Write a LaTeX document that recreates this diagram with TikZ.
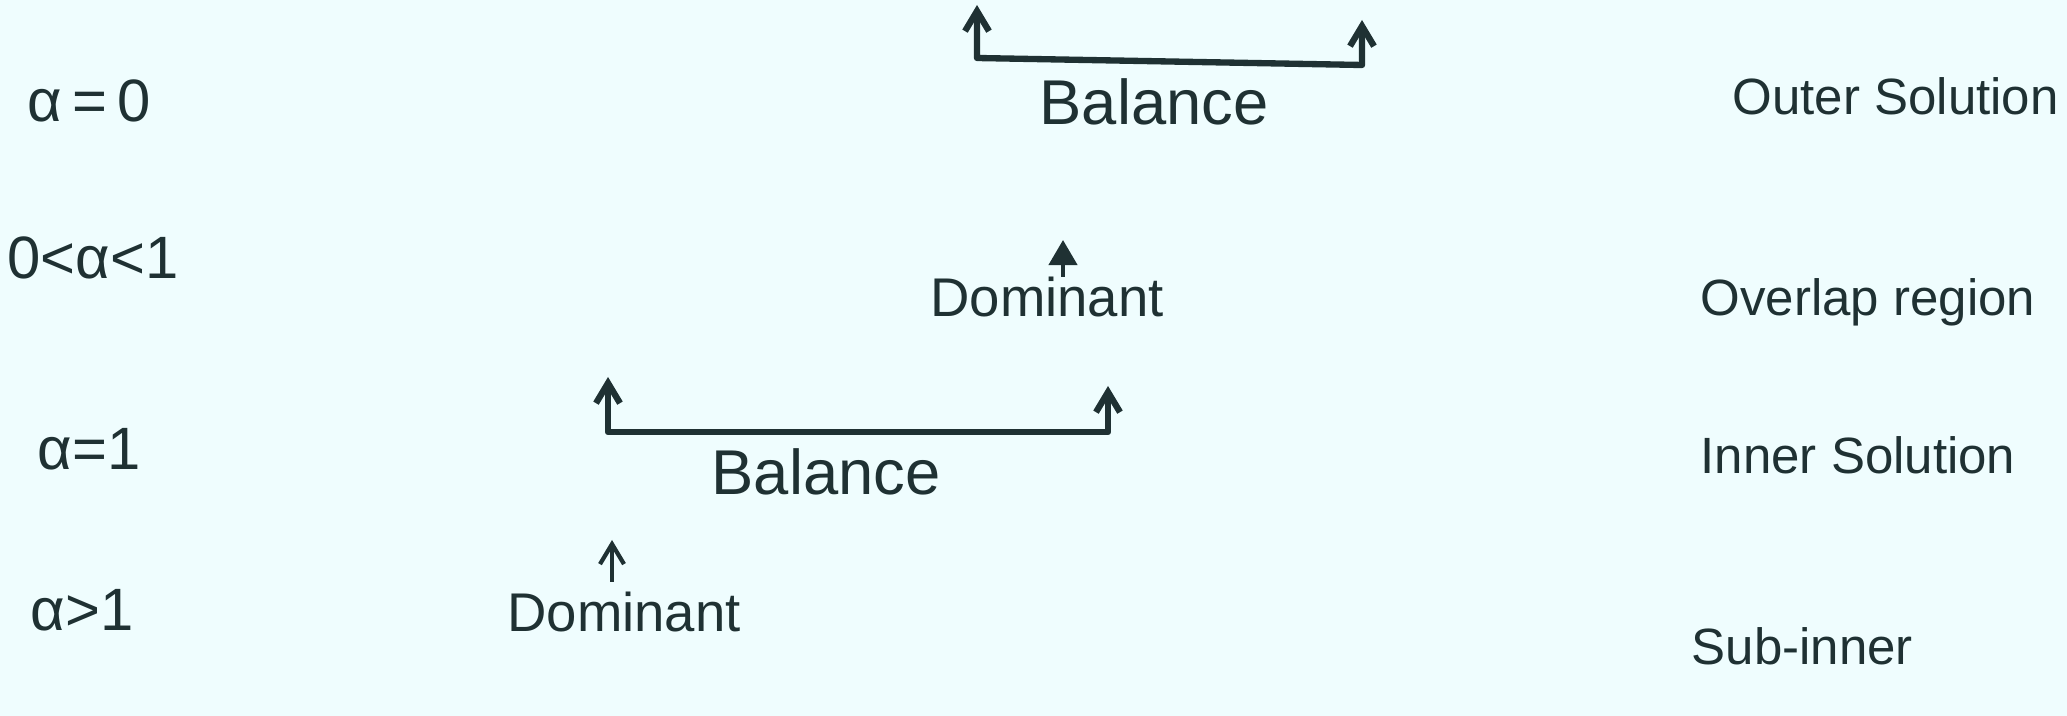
\documentclass[tikz,border=0pt]{standalone}
\usepackage{fontspec}
\setmainfont{Liberation Sans}
\usepackage{xcolor}
\definecolor{fondo}{HTML}{EFFDFE}
\definecolor{tinta}{HTML}{1F3133}
\usepackage{tikz}
\usetikzlibrary{positioning,arrows.meta}

\begin{document}
\begin{tikzpicture}[
  x=0.01cm, y=-0.01cm,
  font=\fontsize{17}{19}\selectfont,
  fila/.style={anchor=base west, text=tinta, inner sep=0pt},
  zona/.style={fila, font=\fontsize{14.5}{17}\selectfont},
  termino/.style={anchor=base, text=tinta, inner sep=0pt},
  flecha/.style={-{Straight Barb[length=2mm, width=2.4mm]}, draw=tinta, line width=1.2pt},
  llave/.style={{Straight Barb[length=2mm, width=2.4mm]}-{Straight Barb[length=2mm, width=2.4mm]}, draw=tinta, line width=1.8pt, line join=round},
  fdom/.style={-{Triangle[length=2.5mm, width=2.8mm]}, draw=tinta, line width=1.2pt}
]
\useasboundingbox (0,0) rectangle (2067,716);
\fill[fondo] (0,0) rectangle (2067,716);
% regimes
\node[fila] (a0) at (27,122) {α\,=\,0};
\node[fila] (a01) at (7,279) {0<α<1};
\node[fila] (a1) at (37,470) {α=1};
\node[fila] (a2) at (30,630) {α>1};
% regions
\node[zona] (outer) at (1732,115) {Outer Solution};
\node[zona] (overlap) at (1700,316) {Overlap region};
\node[zona] (inner) at (1700,474) {Inner Solution};
\node[zona] (sub) at (1691,665) {Sub-inner};
% terms
\node[termino, font=\fontsize{18}{20}\selectfont] (bal1) at (1154,125) {Balance};
\node[termino, font=\fontsize{15.5}{18}\selectfont] (dom1) at (1047,317) {Dominant};
\node[termino, font=\fontsize{18}{20}\selectfont] (bal2) at (826,495) {Balance};
\node[termino, font=\fontsize{15.5}{18}\selectfont] (dom2) at (624,632) {Dominant};
\coordinate (t1a) at (977,5);
\coordinate (t1b) at (1362,20);
\coordinate (c1a) at (977,58);
\coordinate (c1b) at (1362,65);
\coordinate (t2a) at (608,377);
\coordinate (t2b) at (1108,386);
\coordinate (c2a) at (608,432);
\coordinate (c2b) at (1108,432);
\coordinate (p1) at (1063,240);
\coordinate (p2) at (612,540);
\draw[llave] (t1a) -- (c1a) -- (c1b) -- (t1b);
\draw[llave] (t2a) -- (c2a) -- (c2b) -- (t2b);
\draw[fdom] (dom1.north -| p1) -- (p1);
\draw[flecha, shorten <=1mm] (dom2.north -| p2) -- (p2);
\end{tikzpicture}
\end{document}
